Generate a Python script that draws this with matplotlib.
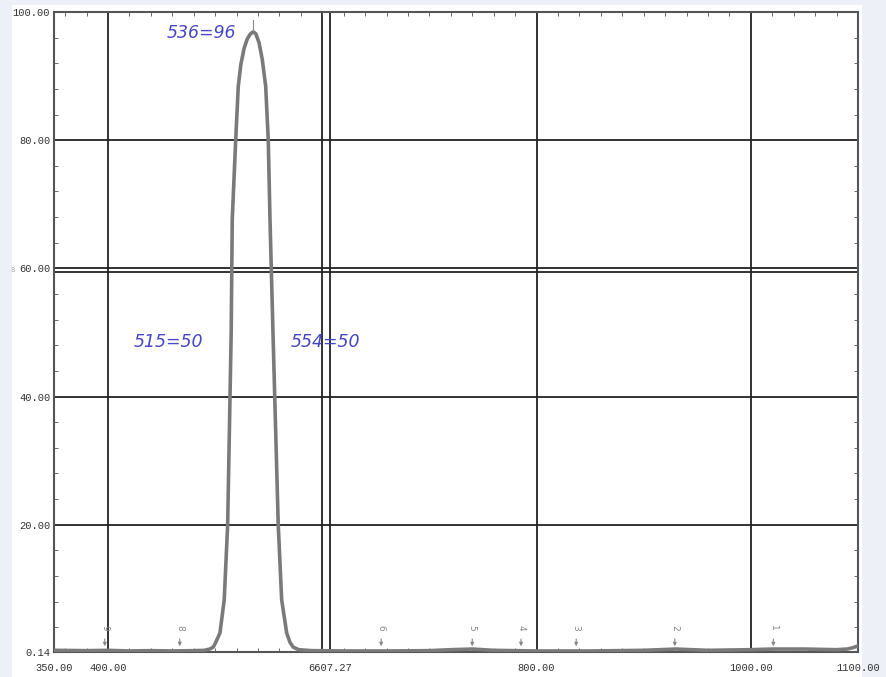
import matplotlib.pyplot as plt
from matplotlib.patches import Rectangle
from matplotlib.ticker import MultipleLocator

# transmission curve
wavelength = [350, 380, 400, 420, 440, 460, 480, 490, 495, 498.3, 501, 504.5, 508.5,
              511.7, 515, 516, 519.2, 521.6, 524, 527, 530, 533, 535.6, 538, 541,
              544, 547.2, 549.6, 551.2, 554, 558.9, 562.1, 566.8, 570, 572.9, 578,
              590, 620, 660, 700, 720, 740, 760, 800, 850, 900, 930, 960, 1000,
              1020, 1050, 1080, 1090, 1095, 1100]
transmission = [0.4, 0.35, 0.4, 0.3, 0.35, 0.3, 0.35, 0.4, 0.6, 0.9, 1.8, 3.1, 8.3,
                20.0, 50.0, 67.7, 80.0, 88.4, 91.8, 94.3, 95.8, 96.6, 96.9, 96.6,
                95.2, 92.6, 88.4, 80.0, 67.7, 50.0, 20.0, 8.3, 3.1, 1.6, 0.9, 0.5,
                0.35, 0.3, 0.3, 0.35, 0.5, 0.6, 0.4, 0.3, 0.3, 0.4, 0.6, 0.4, 0.5,
                0.6, 0.6, 0.5, 0.6, 0.8, 1.1]

# numbered peak markers along the baseline
peak_ids = ['9', '8', '6', '5', '4', '3', '2', '1']
peak_pos = [397, 467, 655, 740, 785.5, 837, 929, 1021]

grid_x = [400, 600, 607.27, 800, 1000]
grid_y = [20, 40, 59.4, 60, 80]
xtick_pos = [350, 400, 607.27, 800, 1000, 1100]
xtick_labels = ['350.00', '400.00', '6607.27', '800.00', '1000.00', '1100.00']
ytick_pos = [0.14, 20, 40, 60, 80, 100]

# hand written notes
notes = ['536=96', '515=50', '554=50']
note_x = [487, 456, 603]
note_y = [96.8, 48.5, 48.5]

fig = plt.figure(figsize=(8.87, 6.77), dpi=100, facecolor='#eef0f8')
fig.patches.append(Rectangle((12 / 887, 0), 850 / 887, 672 / 677,
                             transform=fig.transFigure, facecolor='white',
                             edgecolor='none', zorder=-1))
ax = fig.add_axes([54.4 / 887, 25 / 677, 803.6 / 887, 640 / 677])

for gx in grid_x:
    ax.axvline(gx, color='#222222', lw=1.3, zorder=1)
for gy in grid_y:
    ax.axhline(gy, color='#222222', lw=1.3, zorder=1)

ax.plot(wavelength, transmission, color='#7a7a7a', lw=2.6, zorder=3)

for pid, px in zip(peak_ids, peak_pos):
    ax.annotate('', xy=(px, 0.6), xytext=(px, 2.6),
                arrowprops=dict(arrowstyle='-|>', color='#888888', lw=0.8,
                                mutation_scale=5))
    ax.text(px, 3.9, pid, rotation=-90, ha='center', va='center',
            fontsize=6.5, color='#888888')
# marker above the main peak
ax.plot([535.6, 535.6], [97.3, 98.8], color='#888888', lw=0.8)

for t, nx, ny in zip(notes, note_x, note_y):
    ax.text(nx, ny, t, ha='center', va='center', fontsize=12.5, style='italic',
            color='#4646c8', family='DejaVu Sans', zorder=4)

ax.set_xlim(350, 1100)
ax.set_ylim(0.14, 100)
ax.set_xticks(xtick_pos)
ax.set_xticklabels(xtick_labels)
ax.set_yticks(ytick_pos)
ax.set_yticklabels([f'{v:.2f}' for v in ytick_pos])
ax.xaxis.set_minor_locator(MultipleLocator(20))
ax.yaxis.set_minor_locator(MultipleLocator(4))
ax.tick_params(which='major', length=0, labelsize=7.5, labelcolor='#333333')
ax.tick_params(axis='x', which='major', pad=8)
ax.tick_params(axis='y', which='major', pad=3)
ax.tick_params(which='minor', direction='in', length=3, color='#555555',
               top=True, right=True)
for lab in ax.get_xticklabels() + ax.get_yticklabels():
    lab.set_family('Liberation Mono')
for s in ax.spines.values():
    s.set_color('#555555')
    s.set_linewidth(1.5)

fig.text(13 / 887, 1 - 270 / 677, '8', fontsize=5, color='#aaaaaa',
         ha='center', va='center')

fig.savefig('out.png', dpi=100)
